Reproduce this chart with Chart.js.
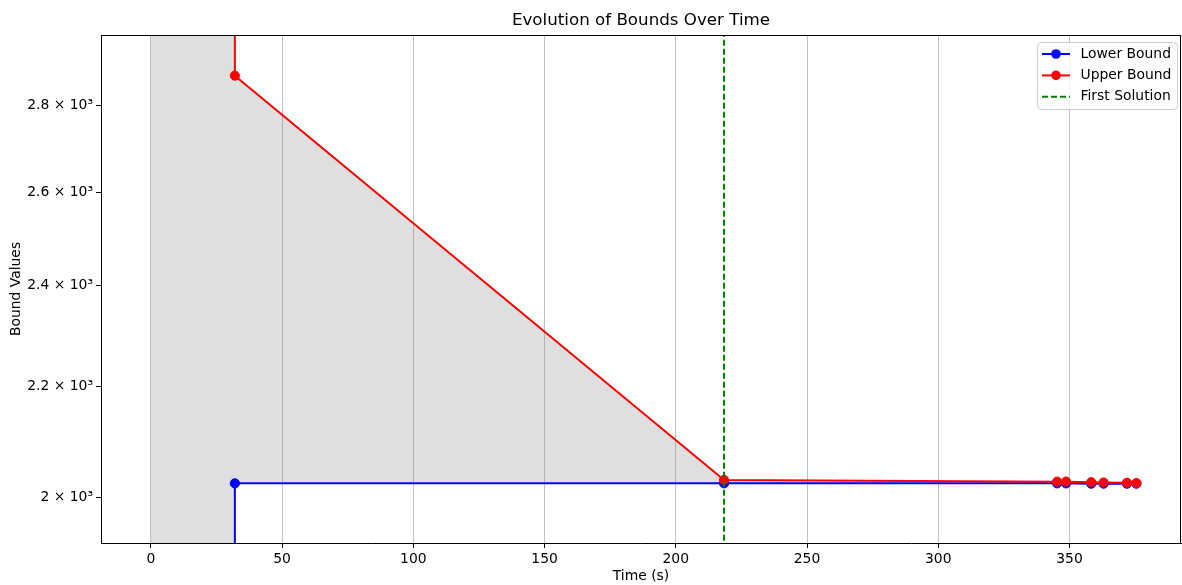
<!DOCTYPE html>
<html>
<head>
<meta charset="utf-8">
<script src="https://cdn.jsdelivr.net/npm/chart.js@4.4.1/dist/chart.umd.min.js"></script>
<style>
  html, body { margin: 0; padding: 0; background: #fff; }
  #wrap { width: 1182px; height: 585px; }
</style>
</head>
<body>
<div id="wrap"><canvas id="boundsChart" width="1182" height="585"></canvas></div>
<script>
// Values
// first entry of each bound is the "no bound yet" value (off the chart)
const startTime = 0;
const times = [32, 32, 218.4, 345.3, 348.7, 358.3, 363.0, 371.9, 375.5];
const upperBound = [10000, 2873, 2031, 2028, 2028, 2027, 2026.5, 2026, 2025.5];
const lowerBound = [1000, 2025, 2025, 2025, 2025, 2024.5, 2024.5, 2024.5, 2024.5];
const firstSolutionTime = 218.4;
const xTicks = [0, 50, 100, 150, 200, 250, 300, 350];
const yTicks = [2000, 2200, 2400, 2600, 2800];

const FONT = 'DejaVu Sans';

function points(ys) {
    return times.map((t, i) => ({ x: t, y: ys[i] }));
}

function radii() {
    return times.map((t, i) => (i === 0 ? 0 : 4.6));
}

function sciLabel(v) {
    const m = v / 1000;
    return m + ' \u00d7 10\u00b3';
}

// top/right spines, title and the legend inside the plot
const extras = {
    id: 'extras',
    afterDraw(chart) {
        const ctx = chart.ctx;
        const a = chart.chartArea;
        ctx.save();
        ctx.strokeStyle = '#000';
        ctx.lineWidth = 1;
        ctx.beginPath();
        ctx.moveTo(a.left, a.top + 0.5);
        ctx.lineTo(a.right, a.top + 0.5);
        ctx.moveTo(a.right - 0.5, a.top);
        ctx.lineTo(a.right - 0.5, a.bottom);
        ctx.stroke();

        ctx.fillStyle = '#000';
        ctx.font = '16.7px "' + FONT + '"';
        ctx.textAlign = 'center';
        ctx.textBaseline = 'middle';
        ctx.fillText('Evolution of Bounds Over Time', (a.left + a.right) / 2, 21);

        // legend
        const items = chart.data.datasets.filter(d => d.inLegend);
        const bx = 1037, by = 42, bw = 140, bh = 67;
        ctx.beginPath();
        ctx.roundRect(bx + 0.5, by + 0.5, bw, bh, 4);
        ctx.fillStyle = 'rgba(255,255,255,0.8)';
        ctx.fill();
        ctx.strokeStyle = '#cccccc';
        ctx.stroke();
        ctx.font = '13.9px "' + FONT + '"';
        ctx.textAlign = 'left';
        items.forEach((d, i) => {
            const y = 54 + i * 21.4;
            ctx.strokeStyle = d.borderColor;
            ctx.lineWidth = 2;
            ctx.setLineDash(d.borderDash || []);
            ctx.beginPath();
            ctx.moveTo(1042, y);
            ctx.lineTo(1070, y);
            ctx.stroke();
            ctx.setLineDash([]);
            if (d.marker) {
                ctx.fillStyle = d.borderColor;
                ctx.beginPath();
                ctx.arc(1056, y, 4.8, 0, Math.PI * 2);
                ctx.fill();
            }
            ctx.fillStyle = '#000';
            ctx.fillText(d.label, 1080.5, y);
        });
        ctx.restore();
    }
};

const ctx = document.getElementById('boundsChart').getContext('2d');
const boundsChart = new Chart(ctx, {
    type: 'line',
    data: {
        datasets: [
            {
                label: 'shade top',
                data: [{ x: startTime, y: upperBound[0] }, ...points(upperBound)],
                fill: '+1',
                backgroundColor: 'rgba(128,128,128,0.25)',
                borderColor: 'rgba(0,0,0,0)',
                borderWidth: 0,
                pointRadius: 0,
                order: 5
            },
            {
                label: 'shade bottom',
                data: [{ x: startTime, y: lowerBound[0] }, ...points(lowerBound)],
                fill: false,
                borderColor: 'rgba(0,0,0,0)',
                borderWidth: 0,
                pointRadius: 0,
                order: 6
            },
            {
                label: 'Lower Bound',
                inLegend: true,
                marker: true,
                data: points(lowerBound),
                borderColor: '#0000ff',
                backgroundColor: '#0000ff',
                borderWidth: 2,
                pointRadius: radii(),
                pointBorderWidth: 1,
                fill: false,
                order: 3
            },
            {
                label: 'Upper Bound',
                inLegend: true,
                marker: true,
                data: points(upperBound),
                borderColor: '#ff0000',
                backgroundColor: '#ff0000',
                borderWidth: 2,
                pointRadius: radii(),
                pointBorderWidth: 1,
                fill: false,
                order: 2
            },
            {
                label: 'First Solution',
                inLegend: true,
                data: [{ x: firstSolutionTime, y: lowerBound[0] }, { x: firstSolutionTime, y: upperBound[0] }],
                borderColor: '#008000',
                borderDash: [6, 3],
                borderWidth: 2,
                pointRadius: 0,
                fill: false,
                order: 1
            }
        ]
    },
    options: {
        responsive: false,
        animation: false,
        events: [],
        layout: { autoPadding: false, padding: { top: 35, right: 1, left: 0, bottom: 0 } },
        plugins: {
            legend: { display: false },
            tooltip: { enabled: false },
            title: { display: false }
        },
        scales: {
            x: {
                type: 'linear',
                min: -19,
                max: 392.5,
                afterBuildTicks: s => { s.ticks = xTicks.map(v => ({ value: v })); },
                afterFit: s => { s.height = 42; s.paddingLeft = 0; s.paddingRight = 0; },
                grid: { color: '#b0b0b0', lineWidth: 0.8, tickColor: '#000', tickLength: 5, tickWidth: 1 },
                border: { color: '#000', width: 1 },
                ticks: { color: '#000', font: { family: FONT, size: 13.9 }, padding: 3, maxRotation: 0 },
                title: { display: true, text: 'Time (s)', color: '#000', font: { family: FONT, size: 13.9 }, padding: { top: 0, bottom: 0 } }
            },
            y: {
                type: 'logarithmic',
                min: 1924,
                max: 2975,
                afterBuildTicks: s => { s.ticks = yTicks.map(v => ({ value: v })); },
                afterFit: s => { s.width = 101; s.paddingTop = 0; s.paddingBottom = 0; },
                grid: { drawOnChartArea: false, tickColor: '#000', tickLength: 5, tickWidth: 1 },
                border: { color: '#000', width: 1 },
                ticks: { color: '#000', font: { family: FONT, size: 13.9 }, padding: 3, callback: v => sciLabel(v) },
                title: { display: true, text: 'Bound Values', color: '#000', font: { family: FONT, size: 13.9 }, padding: { top: 8, bottom: 0 } }
            }
        }
    },
    plugins: [extras]
});
</script>
</body>
</html>
